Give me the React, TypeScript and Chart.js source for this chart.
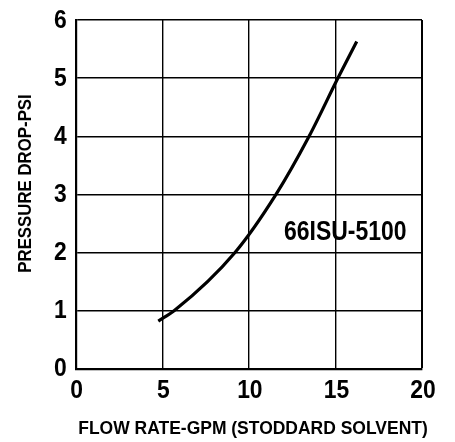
import React, { useEffect, useRef } from "react";
import { Chart, registerables } from "chart.js";

Chart.register(...registerables);

const flowRate = [4.77, 5.7, 9.2, 11.57, 13.48, 15.16, 16.23];
const pressure = [0.82, 1.0, 2.0, 3.0, 4.0, 5.01, 5.63];
const xTicks = [0, 5, 10, 15, 20];
const yTicks = [0, 1, 2, 3, 4, 5, 6];
const xTitle = "FLOW RATE-GPM (STODDARD SOLVENT)";
const yTitle = "PRESSURE DROP-PSI";
const seriesLabel = "66ISU-5100";

const FONT = '"Liberation Sans", Arial, Helvetica, sans-serif';

function condensedText(ctx: any, text: string, x: number, y: number, sx: number) {
  ctx.save();
  ctx.translate(x, y);
  ctx.scale(sx, 1);
  ctx.fillText(text, 0, 0);
  ctx.restore();
}

const textPlugin = {
  id: "texts",
  afterDraw(chart: any) {
    const ctx = chart.ctx;
    const xs = chart.scales.x;
    const ys = chart.scales.y;
    ctx.save();
    ctx.fillStyle = "#000";
    ctx.textAlign = "center";
    ctx.textBaseline = "middle";
    // tick labels
    ctx.font = `bold 26px ${FONT}`;
    xTicks.forEach((v) => {
      condensedText(ctx, String(v), xs.getPixelForValue(v) + 1, 391, 0.88);
    });
    ctx.textAlign = "right";
    yTicks.forEach((v) => {
      condensedText(ctx, String(v), 66.7, ys.getPixelForValue(v) + 0.5, 0.88);
    });
    ctx.textAlign = "center";
    // axis titles
    ctx.font = `bold 19px ${FONT}`;
    condensedText(ctx, xTitle, 253, 429, 0.92);
    ctx.save();
    ctx.translate(26, 183.5);
    ctx.rotate(-Math.PI / 2);
    condensedText(ctx, yTitle, 0, 0, 0.885);
    ctx.restore();
    // series label
    ctx.font = `bold 28px ${FONT}`;
    condensedText(ctx, seriesLabel, xs.getPixelForValue(15.57), ys.getPixelForValue(2.35), 0.82);
    ctx.restore();
  },
};

export default function App() {
  const ref = useRef<HTMLCanvasElement>(null);
  useEffect(() => {
    document.body.style.margin = "0";
    const chart = new Chart(ref.current!, {
      type: "scatter",
      data: {
        datasets: [
          {
            label: seriesLabel,
            data: flowRate.map((x, i) => ({ x, y: pressure[i] })),
            showLine: true,
            borderColor: "#000",
            borderWidth: 3.2,
            pointRadius: 0,
            cubicInterpolationMode: "monotone",
            borderCapStyle: "butt",
          },
        ],
      },
      options: {
        animation: false,
        responsive: false,
        layout: { padding: { left: 0, top: 20, right: 33, bottom: 0 } },
        plugins: { legend: { display: false }, tooltip: { enabled: false } },
        scales: {
          x: {
            type: "linear",
            min: 0,
            max: 20,
            afterFit: (s: any) => {
              s.height = 73.3;
            },
            afterBuildTicks: (s: any) => {
              s.ticks = xTicks.map((v) => ({ value: v }));
            },
            grid: {
              color: "#000",
              lineWidth: (c: any) => (c.tick && c.tick.value === 20 ? 2 : 1.4),
              drawTicks: false,
            },
            border: { color: "#000", width: 2.2 },
            ticks: { display: false },
          },
          y: {
            type: "linear",
            min: 0,
            max: 6,
            afterFit: (s: any) => {
              s.width = 75.7;
            },
            afterBuildTicks: (s: any) => {
              s.ticks = yTicks.map((v) => ({ value: v }));
            },
            grid: {
              color: "#000",
              lineWidth: (c: any) => (c.tick && c.tick.value === 6 ? 1.6 : 1.4),
              drawTicks: false,
            },
            border: { color: "#000", width: 2.2 },
            ticks: { display: false },
          },
        },
      },
      plugins: [textPlugin],
    });
    return () => chart.destroy();
  }, []);
  return (
    <div style={{ position: "absolute", left: 0, top: 0, width: 455, height: 442, background: "#fff" }}>
      <canvas ref={ref} width={455} height={442} style={{ display: "block", width: 455, height: 442 }} />
    </div>
  );
}
